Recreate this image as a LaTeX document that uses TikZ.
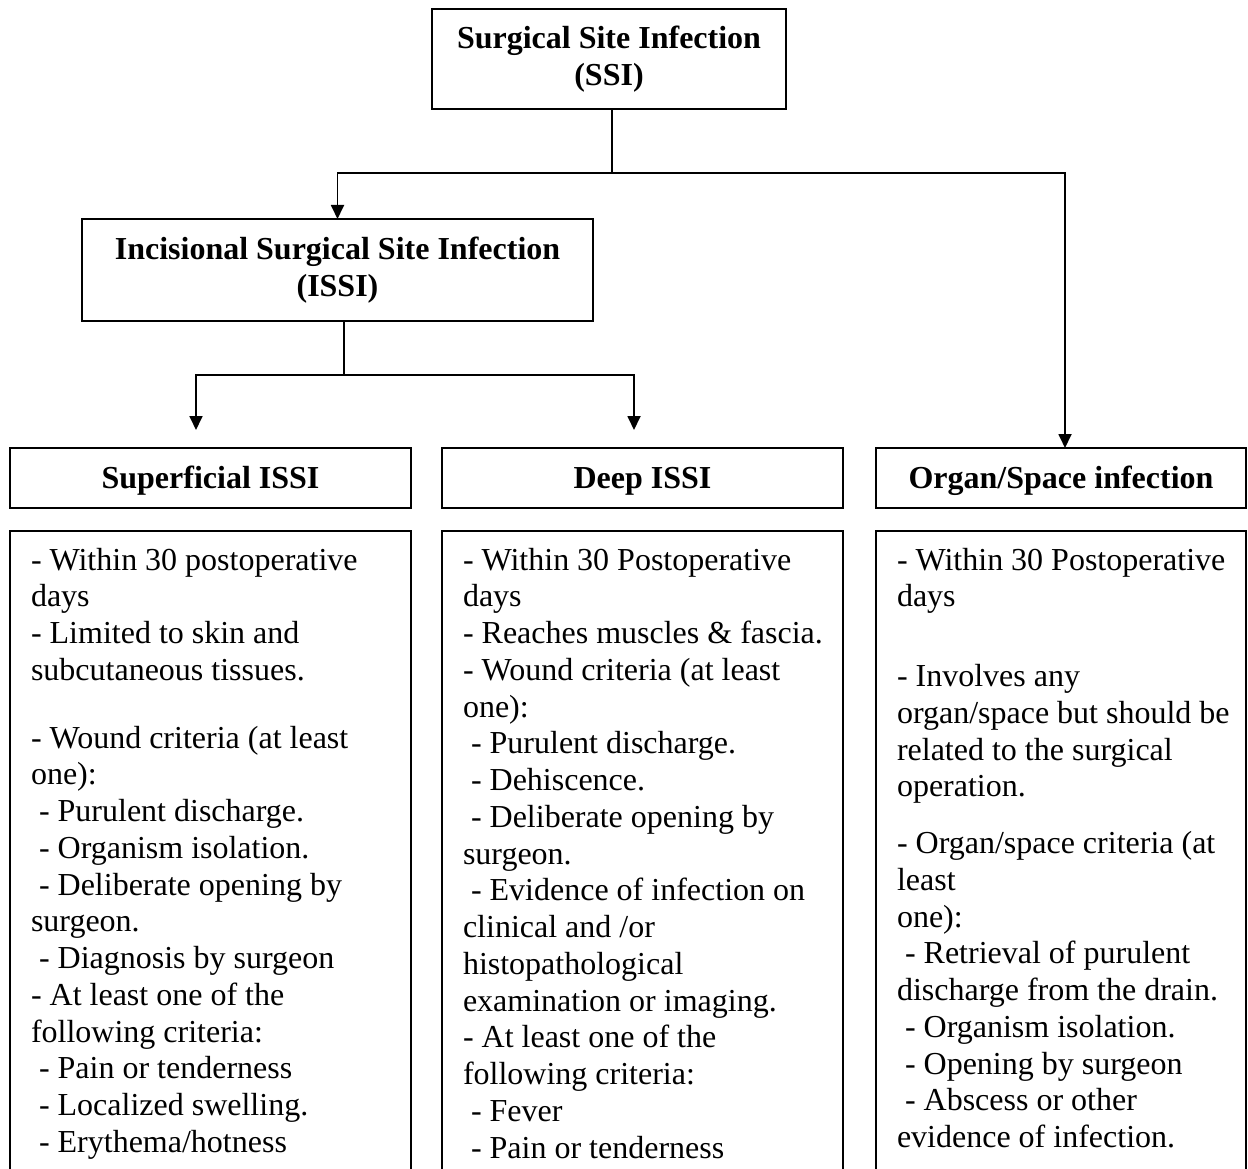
\documentclass[tikz,border=0pt]{standalone}
\usepackage{fontspec}
\setmainfont{Liberation Serif}
\usetikzlibrary{arrows.meta}
\usetikzlibrary{positioning}
\usetikzlibrary{calc}
\tikzset{
head/.style = {draw, outer sep=0pt, align=center,
               font=\bfseries\fontsize{32}{36.75}\selectfont},
tab/.style = {head, minimum height=60pt, text height=21pt, text depth=0pt},
body/.style = {anchor=north west, outer sep=0pt, inner xsep=21pt, inner ysep=17pt,
               text width=#1, align=flush left, font=\fontsize{32}{36.75}\selectfont},
body/.default = 380pt,
arr/.style = {-{Triangle[length=14pt,width=13pt]}}
}
\newcommand{\sdash}{\hspace*{8pt}- }
\newcommand{\openbox}[2]{\draw (#1.west |- bot) -- (#1.west |- #2.north) -- (#1.east |- #2.north) -- (#1.east |- bot);}

\begin{document}
\begin{tikzpicture}[x=1pt, y=-1pt, line width=1.8pt]
    \useasboundingbox (0,0) rectangle (1248,1169);
    \clip (0,0) rectangle (1248,1169);
    \coordinate (bot) at (0,1200);

    \node[head, minimum width=354pt, minimum height=100pt] (ssi) at (609,59)
        {Surgical Site Infection\\(SSI)};
    \node[head, minimum width=511pt, minimum height=102pt] (issi) at (337.5,270)
        {Incisional Surgical Site Infection\\(ISSI)};

    \node[tab, minimum width=401pt] (sup) at (210.5,478) {Superficial ISSI};
    \node[tab, minimum width=401pt] (deep) at (642.5,478) {Deep ISSI};
    \node[tab, minimum width=370pt] (organ) at (1061,478) {Organ/Space infection};

    % connectors
    \draw ([xshift=3pt]ssi.south) -- ++(0,64) coordinate (j1);
    \draw[arr] (j1) -| (issi.north);
    \draw[arr] (j1) -| ([xshift=4pt]organ.north);
    \coordinate (supin) at (196,430);
    \coordinate (deepin) at (634,430);
    \draw ([xshift=6.5pt]issi.south) -- ++(0,54) coordinate (j2);
    \draw[arr] (j2) -| (supin);
    \draw[arr] (j2) -| (deepin);

    % criteria
    \node[body] (supbody) at (sup.west |- 0,531) {%
        - Within 30 postoperative\\
        days\\
        - Limited to skin and\\
        subcutaneous tissues.\\[31pt]
        - Wound criteria (at least\\
        one):\\
        \sdash Purulent discharge.\\
        \sdash Organism isolation.\\
        \sdash Deliberate opening by\\
        surgeon.\\
        \sdash Diagnosis by surgeon\\
        - At least one of the\\
        following criteria:\\
        \sdash Pain or tenderness\\
        \sdash Localized swelling.\\
        \sdash Erythema/hotness};
    \node[body] (deepbody) at (deep.west |- 0,531) {%
        - Within 30 Postoperative\\
        days\\
        - Reaches muscles \& fascia.\\
        - Wound criteria (at least\\
        one):\\
        \sdash Purulent discharge.\\
        \sdash Dehiscence.\\
        \sdash Deliberate opening by\\
        surgeon.\\
        \sdash Evidence of infection on\\
        clinical and /or\\
        histopathological\\
        examination or imaging.\\
        - At least one of the\\
        following criteria:\\
        \sdash Fever\\
        \sdash Pain or tenderness};
    \node[body] (organbody) at (organ.west |- 0,531) {%
        - Within 30 Postoperative\\
        days\\[43pt]
        - Involves any\\
        organ/space but should be\\
        related to the surgical\\
        operation.\\[20pt]
        - Organ/space criteria (at\\
        least\\
        one):\\
        \sdash Retrieval of purulent\\
        discharge from the drain.\\
        \sdash Organism isolation.\\
        \sdash Opening by surgeon\\
        \sdash Abscess or other\\
        evidence of infection.};
    \openbox{sup}{supbody}
    \openbox{deep}{deepbody}
    \openbox{organ}{organbody}
\end{tikzpicture}
\end{document}
